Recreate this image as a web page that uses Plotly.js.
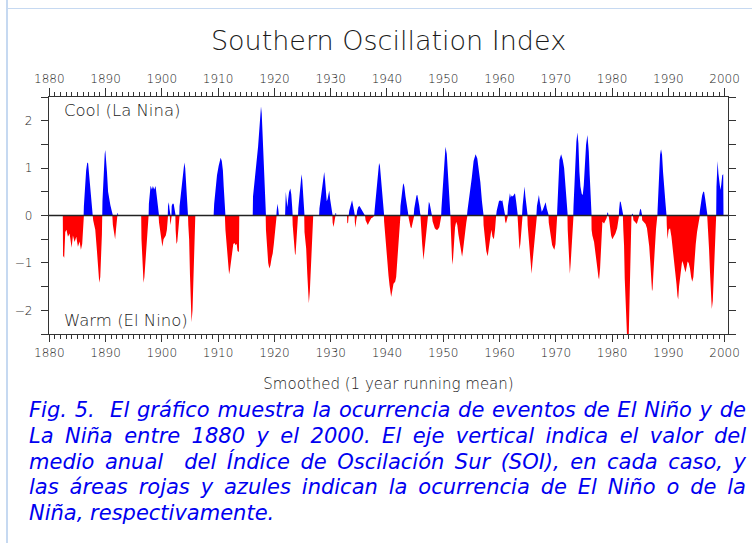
<!DOCTYPE html>
<html>
<head>
<meta charset="utf-8">
<script src="https://cdn.plot.ly/plotly-3.0.1.min.js"></script>
<style>
  html, body { margin: 0; padding: 0; background: #fff; }
  #wrap { position: relative; width: 752px; height: 543px; overflow: hidden; background: #fff; }
  #chart { position: absolute; left: 0; top: 0; width: 752px; height: 543px; }
  .vborder { position: absolute; left: 6px; top: 0; width: 2px; height: 543px; background: #c6d9f1; z-index: 5; }
  .hborder { position: absolute; left: 8px; top: 8px; width: 744px; height: 1px; background: #c6d9f1; z-index: 5; }
  #caption { position: absolute; left: 29px; top: 398px; width: 717px; z-index: 5;
    font-family: "DejaVu Sans", sans-serif; font-style: italic; font-size: 21px; line-height: 25.75px; color: #0000f0; }
  #caption .j { text-align: justify; text-align-last: justify; white-space: nowrap; }
  #caption .l { text-align: left; white-space: nowrap; }
</style>
</head>
<body>
<div id="wrap">
  <div id="chart"></div>
  <div class="vborder"></div>
  <div class="hborder"></div>
  <div id="caption">
    <div class="j">Fig. 5.&nbsp; El gráfico muestra la ocurrencia de eventos de El Niño y de</div>
    <div class="j">La Niña entre 1880 y el 2000. El eje vertical indica el valor del</div>
    <div class="j">medio anual&nbsp; del Índice de Oscilación Sur (SOI), en cada caso, y</div>
    <div class="j">las áreas rojas y azules indican la ocurrencia de El Niño o de la</div>
    <div class="l">Niña, respectivamente.</div>
  </div>
</div>
<script>
// Smoothed SOI (1 year running mean)
const years = [
  1882.40,1882.45,1882.65,1882.84,1883.05,1883.32,1883.61,1883.97,1884.20,1884.50,1884.80,1885.09,1885.39,1885.62,1885.85,1886.00,1886.10,
  1886.15,1886.35,1886.55,1886.75,1886.90,1887.05,1887.25,1887.45,1887.65,1887.72,
  1887.80,1888.00,1888.17,1888.47,1888.64,1888.88,1889.06,1889.24,1889.35,1889.41,
  1889.45,1889.65,1889.85,1889.95,1890.10,1890.25,1890.45,1890.65,1890.85,1891.05,1891.15,1891.20,
  1891.30,1891.50,1891.70,1891.85,1892.00,1892.05,1892.10,1892.20,1892.25,
  1896.33,1896.38,1896.55,1896.75,1896.90,1897.10,1897.30,1897.50,1897.65,
  1897.70,1897.82,1898.00,1898.24,1898.41,1898.65,1898.88,1899.06,1899.24,1899.42,
  1899.50,1899.70,1899.90,1900.10,1900.30,1900.50,1900.70,1900.90,1901.05,
  1901.10,1901.25,1901.35,1901.42,1901.45,1901.55,1901.65,1901.70,1901.75,1901.90,1902.10,1902.30,1902.40,
  1902.45,1902.60,1902.75,1902.90,1903.05,1903.10,
  1903.15,1903.40,1903.65,1903.85,1904.00,1904.15,1904.30,1904.45,1904.60,1904.65,
  1904.70,1904.85,1905.00,1905.15,1905.28,1905.45,1905.60,1905.75,1905.88,1905.95,
  1909.20,1909.30,1909.55,1909.80,1910.10,1910.45,1910.65,1910.85,1911.00,1911.15,1911.20,
  1911.30,1911.50,1911.75,1911.95,1912.10,1912.30,1912.50,1912.70,1912.90,1913.10,1913.30,1913.45,1913.70,1913.76,
  1916.15,1916.20,1916.50,1916.80,1917.10,1917.35,1917.50,1917.62,1917.75,1917.90,1918.05,1918.20,1918.35,1918.45,
  1918.50,1918.70,1918.90,1919.10,1919.30,1919.50,1919.70,1919.90,1920.10,1920.30,1920.35,1920.40,1920.55,1920.70,1920.80,
  1921.90,1921.95,1922.03,1922.15,1922.30,1922.45,1922.60,1922.83,1923.00,1923.15,1923.20,
  1923.25,1923.45,1923.65,1923.75,1923.85,1923.95,1924.10,1924.20,
  1924.25,1924.45,1924.65,1924.82,1924.95,1925.10,1925.25,1925.30,
  1925.35,1925.50,1925.65,1925.85,1926.00,1926.12,1926.30,1926.50,1926.65,1926.80,1926.90,
  1927.95,1928.00,1928.20,1928.45,1928.70,1928.85,1929.00,1929.15,1929.30,1929.45,1929.60,1929.75,1929.90,1930.05,1930.20,1930.30,
  1930.35,1930.50,1930.65,1930.80,1930.85,1930.95,1931.00,
  1932.90,1932.95,1933.10,1933.20,1933.30,1933.55,1933.80,1934.00,1934.20,1934.25,1934.30,1934.40,1934.55,1934.60,
  1934.70,1934.90,1935.12,1935.35,1935.60,1935.85,1936.05,1936.10,1936.20,1936.40,1936.60,1936.80,1937.00,1937.20,1937.45,1937.65,
  1937.73,1937.80,1938.00,1938.20,1938.40,1938.60,1938.75,1938.90,1939.10,1939.30,1939.45,
  1939.50,1939.68,1939.86,1940.04,1940.28,1940.46,1940.63,1940.75,1940.93,1941.16,1941.46,1941.64,1941.82,1942.05,1942.23,1942.34,
  1942.40,1942.60,1942.85,1942.95,1943.10,1943.30,1943.50,1943.70,1943.82,
  1943.85,1944.00,1944.20,1944.35,1944.55,1944.75,
  1944.85,1945.05,1945.25,1945.40,1945.55,1945.75,1945.90,1945.96,
  1946.00,1946.10,1946.26,1946.49,1946.67,1946.85,1947.09,1947.26,
  1947.30,1947.45,1947.60,1947.80,1948.00,
  1948.10,1948.30,1948.50,1948.75,1949.00,1949.30,1949.50,1949.63,
  1949.68,1949.80,1949.98,1950.16,1950.40,1950.63,1950.81,1950.99,1951.17,1951.28,
  1951.32,1951.45,1951.60,1951.75,1951.90,1952.10,1952.30,1952.50,1952.70,1952.90,1953.10,1953.35,1953.50,1953.70,1953.90,1954.10,1954.22,
  1954.30,1954.49,1954.79,1955.08,1955.40,1955.75,1956.05,1956.30,1956.60,1956.88,1957.05,1957.12,
  1957.17,1957.40,1957.65,1957.90,1958.10,1958.30,1958.55,1958.75,1959.00,1959.20,1959.35,
  1959.40,1959.50,1959.70,1959.90,1960.10,1960.30,1960.50,1960.70,1960.90,1961.00,1961.15,1961.30,1961.40,
  1961.50,1961.70,1961.85,1962.00,1962.15,1962.35,1962.55,1962.75,1962.95,1963.10,1963.20,
  1963.25,1963.35,1963.55,1963.70,1963.90,1964.00,
  1964.10,1964.30,1964.45,1964.60,1964.80,1964.95,
  1965.00,1965.20,1965.40,1965.60,1965.70,1965.85,1966.05,1966.25,1966.45,1966.55,
  1966.65,1966.85,1967.00,1967.15,1967.35,1967.50,1967.70,1967.95,1968.20,1968.40,1968.60,1968.70,
  1968.75,1968.95,1969.15,1969.35,1969.55,1969.75,1969.95,1970.10,1970.22,
  1970.25,1970.47,1970.65,1970.95,1971.24,1971.48,1971.72,1971.95,1972.07,
  1972.12,1972.25,1972.40,1972.50,1972.65,1972.80,1972.95,1973.10,
  1973.15,1973.31,1973.49,1973.66,1973.84,1974.02,1974.20,1974.38,1974.61,1974.79,1974.97,1975.15,1975.38,1975.62,1975.86,1976.03,1976.21,1976.33,
  1976.36,1976.50,1976.80,1977.10,1977.39,1977.57,1977.69,1977.87,1978.05,1978.28,1978.58,1978.88,1979.05,1979.10,1979.15,1979.30,1979.35,
  1979.45,1979.60,1979.83,1980.05,1980.30,1980.60,1980.90,1981.10,1981.20,
  1981.25,1981.40,1981.55,1981.75,1981.92,
  1982.00,1982.13,1982.25,1982.43,1982.54,1982.66,1982.96,1983.08,1983.26,1983.40,1983.45,1983.60,1983.70,
  1983.80,1984.00,1984.20,1984.40,1984.60,1984.80,1984.85,1985.00,1985.15,1985.30,
  1985.35,1985.65,1985.95,1986.20,1986.40,1986.60,1986.80,1986.95,1987.10,1987.20,1987.35,1987.55,1987.80,1988.05,
  1988.08,1988.17,1988.35,1988.53,1988.70,1988.88,1989.06,1989.24,1989.47,1989.68,
  1989.72,1989.85,1990.05,1990.30,1990.55,1990.80,1991.05,1991.25,1991.45,1991.62,1991.75,1991.90,1992.08,1992.26,1992.45,
  1992.65,1992.85,1993.05,1993.25,1993.42,1993.62,1993.85,1994.05,1994.25,1994.45,1994.63,1994.87,1995.10,1995.33,1995.52,
  1995.60,1995.80,1996.00,1996.20,1996.35,1996.55,1996.75,1996.90,
  1996.95,1997.05,1997.23,1997.40,1997.58,1997.72,1997.90,1998.08,1998.25,1998.40,1998.50,
  1998.55,1998.65,1998.75,1998.90,1999.05,1999.25,1999.40,1999.58,1999.75,1999.80
];
const soi = [
  0,-0.85,-0.89,-0.35,-0.30,-0.45,-0.38,-0.68,-0.42,-0.56,-0.45,-0.66,-0.55,-0.72,-0.60,-0.35,0,
  0.20,0.60,0.95,1.12,1.10,0.90,0.60,0.30,0.10,0,
  -0.10,-0.20,-0.30,-0.75,-1.00,-1.42,-1.30,-0.90,-0.40,0,
  0.30,0.90,1.30,1.38,1.20,0.92,0.50,0.30,0.22,0.12,0.05,0,
  -0.20,-0.38,-0.50,-0.30,-0.05,0,0.05,0.05,0,
  0,-0.50,-1.10,-1.42,-1.30,-0.90,-0.55,-0.25,0,
  0.25,0.40,0.63,0.55,0.62,0.55,0.62,0.45,0.20,0,
  -0.15,-0.35,-0.55,-0.66,-0.50,-0.45,-0.42,-0.30,0,
  0.20,0.28,0.15,0,-0.10,-0.20,-0.10,0,0.20,0.25,0.25,0.10,0,
  -0.30,-0.60,-0.55,-0.30,-0.10,0,
  0.20,0.50,0.80,1.05,1.12,1.00,0.60,0.30,0.10,0,
  -0.20,-0.50,-1.25,-1.90,-2.25,-2.00,-1.40,-0.80,-0.30,0,
  0,0.25,0.55,0.85,1.05,1.22,1.15,0.95,0.60,0.20,0,
  -0.30,-0.65,-1.05,-1.24,-1.15,-0.95,-0.70,-0.60,-0.58,-0.62,-0.60,-0.75,-0.77,0,
  0,0.40,0.70,1.10,1.45,1.85,2.20,2.30,2.15,1.70,1.30,0.80,0.35,0,
  -0.30,-0.70,-1.00,-1.12,-1.05,-0.90,-0.80,-0.60,-0.35,-0.10,0,0.10,0.25,0.12,0,
  0,0.30,0.50,0.35,0.18,0.35,0.49,0.57,0.45,0.20,0,
  -0.20,-0.55,-0.80,-0.84,-0.60,-0.35,-0.10,0,
  0.15,0.40,0.70,0.87,0.75,0.45,0.15,0,
  -0.35,-0.50,-0.70,-1.25,-1.65,-1.85,-1.60,-1.10,-0.75,-0.40,0,
  0,0.15,0.35,0.60,0.80,0.92,0.75,0.50,0.30,0.35,0.48,0.53,0.35,0.20,0.10,0,
  -0.15,-0.24,-0.15,0,0.05,0.06,0,
  0,-0.17,-0.15,0,0.10,0.25,0.32,0.20,0.05,0,-0.15,-0.26,-0.10,0,
  0.10,0.18,0.20,0.15,0.10,0.06,0.03,0,-0.10,-0.15,-0.20,-0.15,-0.10,-0.06,-0.04,0,
  0,0.10,0.35,0.60,0.95,1.11,1.05,0.80,0.45,0.15,0,
  -0.13,-0.42,-0.70,-1.05,-1.27,-1.47,-1.60,-1.72,-1.60,-1.44,-1.40,-1.30,-0.98,-0.63,-0.27,0,
  0.20,0.45,0.65,0.68,0.60,0.40,0.20,0.08,0,
  -0.05,-0.15,-0.25,-0.27,-0.15,0,
  0.15,0.30,0.42,0.43,0.35,0.20,0.05,0,
  -0.10,-0.35,-0.60,-0.94,-0.75,-0.55,-0.30,0,
  0.10,0.29,0.25,0.10,0,
  -0.12,-0.22,-0.27,-0.30,-0.30,-0.25,-0.10,0,
  0.15,0.40,0.85,1.20,1.45,1.30,0.90,0.40,0.10,0,
  -0.20,-0.70,-1.04,-0.90,-0.60,-0.25,-0.13,-0.20,-0.40,-0.55,-0.70,-0.87,-0.75,-0.60,-0.35,-0.15,0,
  0.10,0.25,0.50,0.80,1.15,1.29,1.20,1.00,0.70,0.30,0.10,0,
  -0.20,-0.50,-0.75,-0.86,-0.70,-0.45,-0.30,-0.45,-0.50,-0.30,0,
  0,0.10,0.25,0.30,0.32,0.30,0.32,0.15,0,-0.12,-0.17,-0.10,0,
  0.20,0.40,0.47,0.38,0.42,0.40,0.45,0.47,0.30,0.10,0,
  -0.10,-0.40,-0.72,-0.60,-0.20,0,
  0.20,0.50,0.61,0.40,0.15,0,
  -0.20,-0.55,-0.90,-1.20,-1.23,-1.00,-0.70,-0.40,-0.15,0,
  0.20,0.38,0.43,0.30,0.12,0.08,0.12,0.22,0.28,0.15,0.05,0,
  -0.15,-0.35,-0.50,-0.62,-0.68,-0.72,-0.60,-0.35,0,
  0.10,0.80,1.17,1.29,1.17,1.00,0.60,0.30,0,
  -0.30,-0.70,-1.10,-1.23,-1.00,-0.60,-0.25,0,
  0.20,0.70,1.13,1.56,1.75,1.52,0.92,0.61,0.46,0.43,0.64,1.06,1.49,1.70,1.35,0.85,0.29,0,
  -0.30,-0.42,-0.56,-0.80,-1.12,-1.30,-1.35,-1.12,-0.56,-0.13,-0.17,-0.10,-0.05,0,0.07,0.05,0,
  -0.05,-0.24,-0.42,-0.50,-0.45,-0.38,-0.27,-0.12,0,
  0.12,0.30,0.28,0.15,0,
  -0.30,-0.63,-1.33,-2.04,-2.39,-2.55,-2.55,-2.04,-0.77,-0.20,0,0.04,0,
  -0.10,-0.12,-0.15,-0.18,-0.10,0,0.05,0.14,0.12,0,
  -0.10,-0.15,-0.18,-0.27,-0.45,-0.65,-1.00,-1.30,-1.60,-1.55,-1.20,-0.77,-0.30,0,
  0.10,0.43,0.92,1.28,1.40,1.28,0.92,0.57,0.29,0,
  -0.20,-0.50,-0.30,-0.27,-0.45,-0.70,-0.92,-1.20,-1.45,-1.70,-1.77,-1.50,-1.28,-1.07,-0.96,
  -1.02,-1.15,-1.20,-1.08,-0.97,-1.00,-1.12,-1.30,-1.40,-1.30,-0.92,-0.60,-0.35,-0.15,0,
  0.10,0.30,0.42,0.50,0.50,0.35,0.15,0,
  -0.10,-0.27,-0.70,-1.19,-1.69,-1.97,-1.80,-1.20,-0.55,-0.15,0,
  0.60,1.13,1.15,0.88,0.65,0.54,0.65,0.85,0.87,0
];
const yTickVals = [-2.5,-2,-1.5,-1,-0.5,0,0.5,1,1.5,2,2.5];
const yTickText = ['', '\u22122', '', '\u22121', '', '0', '', '1', '', '2', ''];
const xRange = [1879.95, 2000.6];

const cool = soi.map(v => (v > 0 ? v : 0));
const warm = soi.map(v => (v < 0 ? v : 0));

const textCol = '#1a1a1a';
const axisFont = {family: 'DejaVu Sans, sans-serif', size: 12, color: textCol, weight: 200};
const lineCol = '#333';

const traces = [
  {x: years, y: warm, type: 'scatter', mode: 'lines', fill: 'tozeroy',
   fillcolor: '#ff0000', line: {width: 0, color: '#ff0000'}, hoverinfo: 'skip', xaxis: 'x', yaxis: 'y'},
  {x: years, y: cool, type: 'scatter', mode: 'lines', fill: 'tozeroy',
   fillcolor: '#0000ff', line: {width: 0, color: '#0000ff'}, hoverinfo: 'skip', xaxis: 'x2', yaxis: 'y'}
];

const xCommon = {
  range: xRange, tickmode: 'linear', tick0: 1880, dtick: 10, tickformat: 'd',
  ticks: 'outside', ticklen: 7, tickwidth: 1, tickcolor: lineCol,
  minor: {tickmode: 'linear', tick0: 1880, dtick: 1, ticks: 'outside', ticklen: 4, tickwidth: 1, tickcolor: lineCol},
  showline: true, linecolor: lineCol, linewidth: 1.2, showgrid: false, zeroline: false,
  tickfont: axisFont, fixedrange: true
};

const layout = {
  width: 752, height: 543,
  margin: {l: 49, r: 24, t: 97, b: 209, pad: 0},
  paper_bgcolor: '#ffffff', plot_bgcolor: '#ffffff',
  showlegend: false,
  title: {text: 'Southern Oscillation Index', x: 0.5, xref: 'paper', xanchor: 'center',
          y: 1 - 41 / 543, yref: 'container', yanchor: 'middle',
          font: {family: 'DejaVu Sans, sans-serif', size: 27, color: textCol, weight: 200}},
  xaxis: Object.assign({}, xCommon, {
    side: 'bottom', automargin: false,
    title: {text: 'Smoothed (1 year running mean)', standoff: 20,
            font: {family: 'DejaVu Sans, sans-serif', size: 15, color: textCol, weight: 200}}
  }),
  xaxis2: Object.assign({}, xCommon, {side: 'top', overlaying: 'x', automargin: false, ticklen: 8}),
  yaxis: {
    range: [-2.5, 2.5], tickmode: 'array', tickvals: yTickVals, ticktext: yTickText,
    ticks: 'outside', ticklen: 7, tickwidth: 1, tickcolor: lineCol,
    showline: true, linecolor: lineCol, linewidth: 1.2, mirror: 'ticks',
    showgrid: false, zeroline: false, tickfont: axisFont, ticklabelstandoff: 6,
    automargin: false, fixedrange: true
  },
  shapes: [
    {type: 'line', xref: 'paper', yref: 'y', x0: 0, x1: 1, y0: 0, y1: 0,
     line: {color: '#222', width: 1.4}, layer: 'above'}
  ],
  annotations: [
    {text: 'Cool (La Nina)', xref: 'paper', yref: 'paper', x: 0.019, y: 0.945,
     xanchor: 'left', yanchor: 'middle', showarrow: false,
     font: {family: 'DejaVu Sans, sans-serif', size: 16.5, color: textCol, weight: 200}},
    {text: 'Warm (El Nino)', xref: 'paper', yref: 'paper', x: 0.019, y: 0.059,
     xanchor: 'left', yanchor: 'middle', showarrow: false,
     font: {family: 'DejaVu Sans, sans-serif', size: 16.5, color: textCol, weight: 200}}
  ]
};

Plotly.newPlot('chart', traces, layout, {staticPlot: true, displayModeBar: false});
</script>
</body>
</html>
